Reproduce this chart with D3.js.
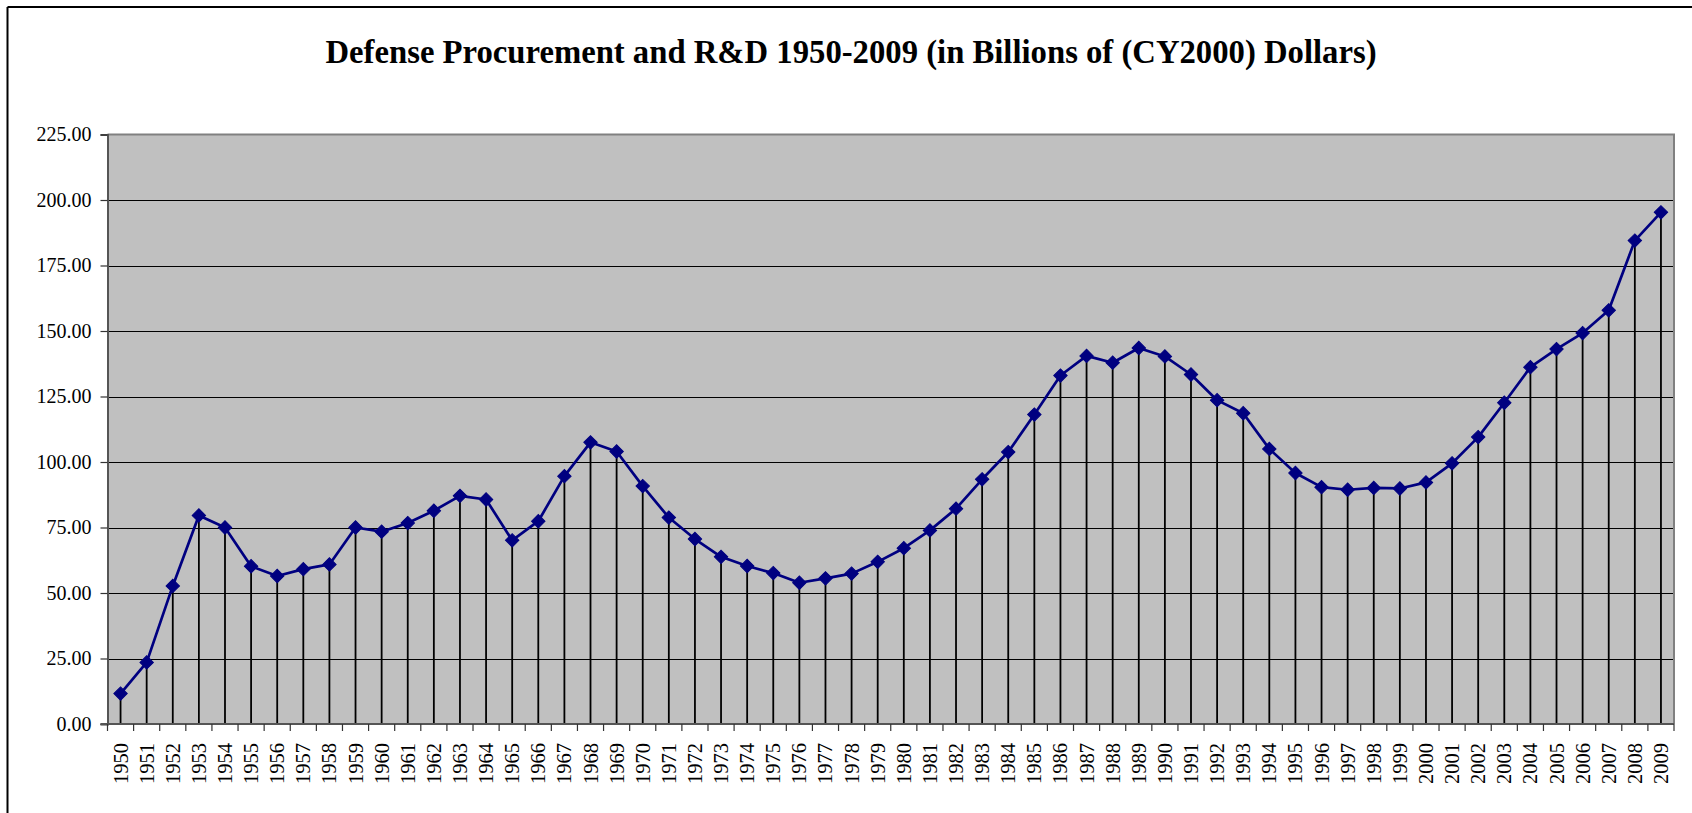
<!DOCTYPE html>
<html>
<head>
<meta charset="utf-8">
<script src="https://cdn.jsdelivr.net/npm/d3@7/dist/d3.min.js"></script>
<style>
  html, body { margin: 0; padding: 0; background: #ffffff; }
  svg { display: block; }
  text { font-family: "Liberation Serif", "Times New Roman", serif; fill: #000; }
</style>
</head>
<body>
<svg id="chart" width="1692" height="813"></svg>
<script>
// Fiscal years 1950-2009
const years = [
  "1950","1951","1952","1953","1954","1955","1956","1957","1958","1959",
  "1960","1961","1962","1963","1964","1965","1966","1967","1968","1969",
  "1970","1971","1972","1973","1974","1975","1976","1977","1978","1979",
  "1980","1981","1982","1983","1984","1985","1986","1987","1988","1989",
  "1990","1991","1992","1993","1994","1995","1996","1997","1998","1999",
  "2000","2001","2002","2003","2004","2005","2006","2007","2008","2009"
];

// Procurement + R&D outlays, billions of CY2000 dollars
const spending = [
  11.6, 23.5, 52.7, 79.6, 75.0, 60.2, 56.5, 59.1, 60.9, 75.0,
  73.4, 76.7, 81.4, 87.1, 85.7, 70.1, 77.4, 94.6, 107.5, 104.0,
  90.8, 78.8, 70.6, 63.8, 60.3, 57.6, 53.9, 55.6, 57.4, 61.9,
  67.1, 73.9, 82.2, 93.4, 103.8, 118.1, 133.0, 140.5, 137.9, 143.5,
  140.3, 133.4, 123.6, 118.6, 105.0, 95.8, 90.4, 89.4, 90.1, 89.9,
  92.2, 99.5, 109.5, 122.6, 136.2, 143.1, 149.2, 157.9, 184.5, 195.3
];

// Value axis ticks
const yTicks = [0, 25, 50, 75, 100, 125, 150, 175, 200, 225];

const titleText = "Defense Procurement and R&D 1950-2009 (in Billions of (CY2000) Dollars)";

const svg = d3.select("#chart");
const W = 1692, H = 813;
const plot = { left: 107.5, right: 1674, top: 134.5, bottom: 724 };

// Outer chart frame (left and top edges inside the canvas)
svg.append("line").attr("x1", 7.5).attr("y1", 7).attr("x2", W).attr("y2", 7)
  .attr("stroke", "#000").attr("stroke-width", 2);
svg.append("line").attr("x1", 7.5).attr("y1", 7).attr("x2", 7.5).attr("y2", H)
  .attr("stroke", "#000").attr("stroke-width", 2);

// Title
svg.append("text")
  .attr("x", 851).attr("y", 63)
  .attr("text-anchor", "middle")
  .style("font-size", "32.7px")
  .style("font-weight", "bold")
  .text(titleText);

const x = d3.scaleBand().domain(years).range([plot.left, plot.right]).padding(0);
const y = d3.scaleLinear().domain([0, 225]).range([plot.bottom, plot.top]);
const cx = d => x(d) + x.bandwidth() / 2;

// Plot area background
svg.append("rect")
  .attr("x", plot.left).attr("y", plot.top)
  .attr("width", plot.right - plot.left).attr("height", plot.bottom - plot.top)
  .attr("fill", "#c0c0c0");

// Horizontal gridlines
svg.append("g").selectAll("line")
  .data(yTicks.filter(t => t > 0 && t < 225))
  .join("line")
  .attr("x1", plot.left).attr("x2", plot.right)
  .attr("y1", d => Math.round(y(d)) + 0.5).attr("y2", d => Math.round(y(d)) + 0.5)
  .attr("stroke", "#000").attr("stroke-width", 1);

// Plot border (top and right in grey)
svg.append("path")
  .attr("d", `M${plot.left},${plot.top}H${plot.right}V${plot.bottom}`)
  .attr("fill", "none").attr("stroke", "#808080").attr("stroke-width", 2);

// Drop lines from each point to the category axis
svg.append("g").selectAll("line")
  .data(years)
  .join("line")
  .attr("x1", d => cx(d)).attr("x2", d => cx(d))
  .attr("y1", (d, i) => y(spending[i])).attr("y2", plot.bottom)
  .attr("stroke", "#000").attr("stroke-width", 1.8);

// Y axis
const yAxis = d3.axisLeft(y).tickValues(yTicks).tickFormat(d3.format(".2f"))
  .tickSize(7).tickPadding(9);
const gy = svg.append("g").attr("transform", `translate(${plot.left},0)`).call(yAxis);
gy.select(".domain").attr("stroke", "#555").attr("stroke-width", 2);
gy.selectAll(".tick line").attr("stroke", "#333").attr("stroke-width", 1.2);
gy.selectAll(".tick text")
  .style("font-family", "'Liberation Serif', 'Times New Roman', serif")
  .style("font-size", "20px").attr("fill", "#000");

// X axis: ticks between categories, rotated year labels
const gx = svg.append("g").attr("transform", `translate(0,${plot.bottom})`);
gx.append("line").attr("x1", plot.left - 7).attr("x2", plot.right)
  .attr("y1", 0).attr("y2", 0).attr("stroke", "#555").attr("stroke-width", 2);
const bounds = years.map(d => x(d)).concat([plot.right]);
gx.selectAll("line.tk")
  .data(bounds)
  .join("line").attr("class", "tk")
  .attr("x1", d => d).attr("x2", d => d)
  .attr("y1", 0).attr("y2", 7)
  .attr("stroke", "#333").attr("stroke-width", 1.2);
gx.selectAll("text")
  .data(years)
  .join("text")
  .attr("transform", d => `translate(${cx(d) + 7},19) rotate(-90)`)
  .attr("text-anchor", "end")
  .style("font-size", "20.5px")
  .text(d => d);

// Series line
const line = d3.line().x((d, i) => cx(years[i])).y(d => y(d));
svg.append("path")
  .datum(spending)
  .attr("d", line)
  .attr("fill", "none")
  .attr("stroke", "#000080")
  .attr("stroke-width", 2.7)
  .attr("stroke-linejoin", "round");

// Diamond markers
const diamond = d3.symbol().type(d3.symbolSquare).size(90);
svg.append("g").selectAll("path")
  .data(spending)
  .join("path")
  .attr("d", diamond)
  .attr("transform", (d, i) => `translate(${cx(years[i])},${y(d)}) rotate(45)`)
  .attr("fill", "#000080")
  .attr("stroke", "#000080")
  .attr("stroke-width", 1);
</script>
</body>
</html>
